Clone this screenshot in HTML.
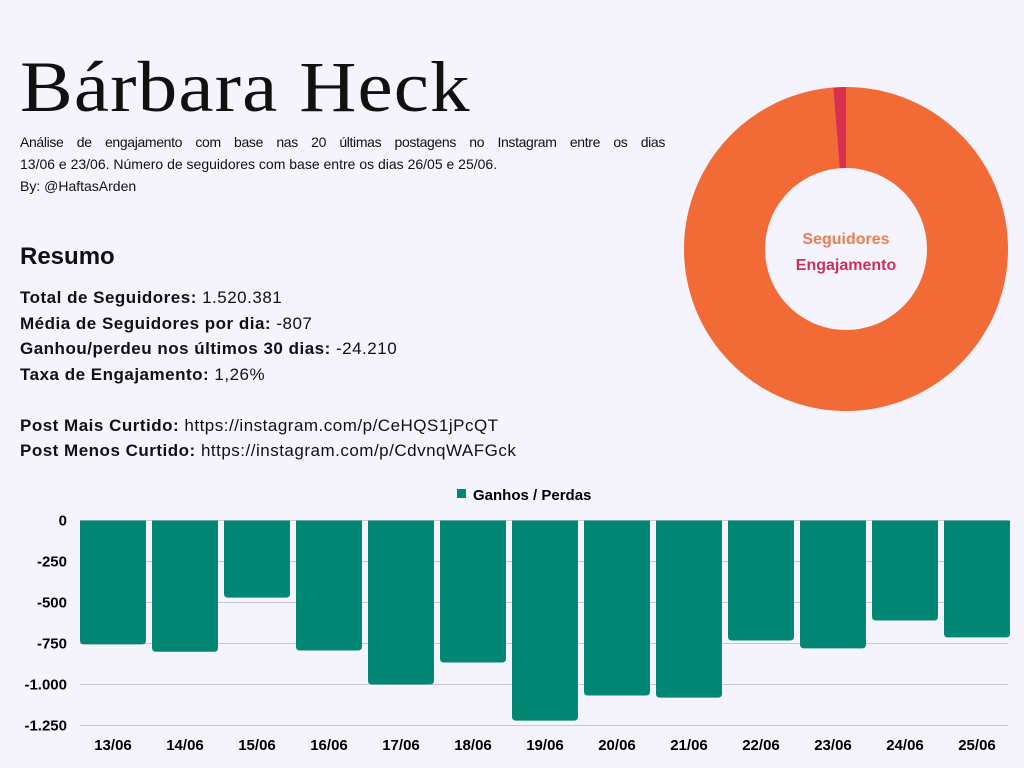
<!DOCTYPE html>
<html><head><meta charset="utf-8"><style>
body{margin:0;width:1024px;height:768px;background:#f5f3fc;font-family:"Liberation Sans",sans-serif;overflow:hidden;position:relative;color:#111}
.abs{position:absolute}
h1{position:absolute;left:20px;top:42px;margin:0;font-family:"Liberation Serif",serif;font-weight:normal;font-size:72px;line-height:90px;letter-spacing:1px;transform:scaleX(1.1);transform-origin:left top;white-space:nowrap}
.desc{left:20px;top:131px;width:645px;font-size:14px;line-height:22px}
.j{text-align:justify;text-align-last:justify;letter-spacing:-0.35px;white-space:nowrap;word-spacing:1px}
.res{left:20px;top:243px;font-size:24px;font-weight:bold}
.lines{left:20px;top:285px;font-size:17px;line-height:25.5px;letter-spacing:0.5px;white-space:nowrap}
</style></head><body>
<h1>Bárbara Heck</h1>
<div class="abs desc"><div class="j">Análise de engajamento com base nas 20 últimas postagens no Instagram entre os dias</div>13/06 e 23/06. Número de seguidores com base entre os dias 26/05 e 25/06.<br>By: @HaftasArden</div>
<div class="abs res">Resumo</div>
<div class="abs lines">
<b>Total de Seguidores:</b> 1.520.381<br>
<b>Média de Seguidores por dia:</b> -807<br>
<b>Ganhou/perdeu nos últimos 30 dias:</b> -24.210<br>
<b>Taxa de Engajamento:</b> 1,26%<br><br>
<b>Post Mais Curtido:</b> https://instagram.com/p/CeHQS1jPcQT<br>
<b>Post Menos Curtido:</b> https://instagram.com/p/CdvnqWAFGck
</div>
<svg class="abs" style="left:0;top:0" width="1024" height="768" id="svg"></svg>
<script>
const donutLabels=["Seguidores","Engajamento"];
const donutValues=[98.74,1.26];
const categories=["13/06","14/06","15/06","16/06","17/06","18/06","19/06","20/06","21/06","22/06","23/06","24/06","25/06"];
const values=[-755,-800,-470,-793,-1000,-866,-1220,-1067,-1080,-732,-780,-610,-713];
const ticks=[0,-250,-500,-750,-1000,-1250];
const tickLabels=["0","-250","-500","-750","-1.000","-1.250"];
const NS="http://www.w3.org/2000/svg",svg=document.getElementById('svg');
function mk(t,a,txt){const e=document.createElementNS(NS,t);for(const k in a)e.setAttribute(k,a[k]);if(txt!=null)e.textContent=txt;svg.appendChild(e);return e;}
const cx=846,cy=249,R=162,r=81,colors=["#f26a35","#d8304f"];
let tot=donutValues.reduce((a,b)=>a+b,0);
function pt(a,rad){return [cx+rad*Math.sin(a),cy-rad*Math.cos(a)];}
let a0=0;
donutValues.forEach((v,i)=>{const a1=a0+v/tot*2*Math.PI;const [x1,y1]=pt(a0,R),[x2,y2]=pt(a1,R),[x3,y3]=pt(a1,r),[x4,y4]=pt(a0,r);const lg=(a1-a0)>Math.PI?1:0;
const p=mk('path',{d:`M${x1},${y1}A${R},${R} 0 ${lg} 1 ${x2},${y2}L${x3},${y3}A${r},${r} 0 ${lg} 0 ${x4},${y4}Z`,fill:colors[i]});


a0=a1;});
donutLabels.forEach((l,i)=>{const t=mk('text',{x:cx,y:244+i*26,'text-anchor':'middle','font-size':16,'font-weight':'bold',fill:i?'#c9305a':'#e98050'},l);

});
const x0=80,pitch=72,bw=66,yz=520.5,k=0.164;
const y=v=>yz-v*k;
ticks.forEach((v,i)=>{const g=mk('line',{x1:x0,x2:1008,y1:y(v),y2:y(v),stroke:'#c8c8d0','stroke-width':1});


const t=mk('text',{x:67,y:y(v)+5,'text-anchor':'end','font-size':15,'font-weight':'bold'},tickLabels[i]);

});
values.forEach((v,i)=>{const x=x0+i*pitch,h=y(v)-yz;
const b=mk('path',{d:`M${x},${yz}h${bw}v${h-4}q0,4 -4,4h${-(bw-8)}q-4,0 -4,-4Z`,fill:'#038775'});


const t=mk('text',{x:x+bw/2,y:750,'text-anchor':'middle','font-size':15,'font-weight':'bold'},categories[i]);

});
const lr=mk('rect',{x:457,y:489,width:9,height:9,fill:'#038775'});


const lt=mk('text',{x:473,y:500,'font-size':15,'font-weight':'bold'},'Ganhos / Perdas');


</script>
</body></html>
